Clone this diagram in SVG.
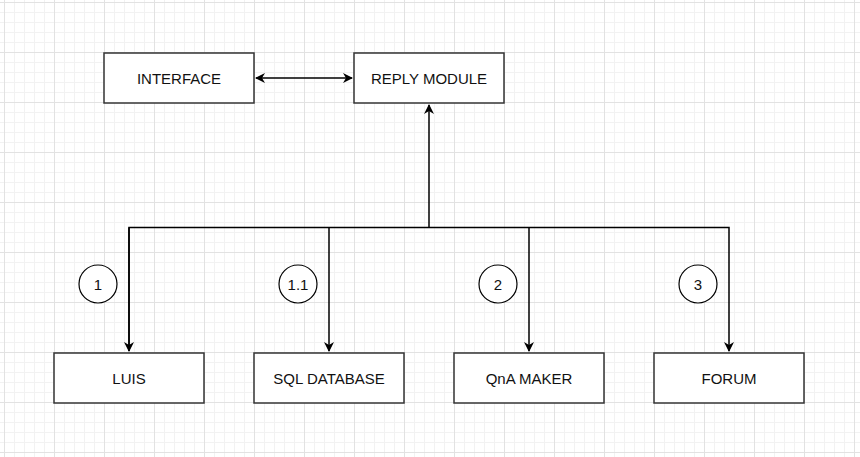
<svg xmlns="http://www.w3.org/2000/svg" width="860" height="457" viewBox="0 0 860 457">
<defs>
<pattern id="minor" x="4" y="2" width="10" height="10" patternUnits="userSpaceOnUse">
<path d="M0 0.5H10M0.5 0V10" fill="none" stroke="#f2f2f2" stroke-width="1"/>
</pattern>
<pattern id="major" x="4" y="2" width="50" height="50" patternUnits="userSpaceOnUse">
<path d="M0 0.5H50M0.5 0V50" fill="none" stroke="#e2e2e2" stroke-width="1"/>
</pattern>
<marker id="ah" viewBox="0 0 10 10" refX="9" refY="5" markerWidth="10" markerHeight="10" markerUnits="userSpaceOnUse" orient="auto-start-reverse">
<path d="M0 0L10 5L0 10L3 5Z" fill="#000"/>
</marker>
<style>
.box{fill:#fff;stroke:#333;stroke-width:1.5}
.lbl{font-family:"Liberation Sans",Arial,sans-serif;font-size:15px;fill:#111;text-anchor:middle;dominant-baseline:central}
.c{fill:#fff;stroke:#000;stroke-width:1.2}
.ln{fill:none;stroke:#000;stroke-width:1.5}
</style>
</defs>
<rect width="860" height="457" fill="#fff"/>
<rect width="860" height="457" fill="url(#minor)"/>
<rect width="860" height="457" fill="url(#major)"/>
<g id="connectors">
<path class="ln" d="M256 78H352" marker-start="url(#ah)" marker-end="url(#ah)"/>
<path class="ln" d="M429 227V105" stroke-width="2.5" marker-end="url(#ah)"/>
<path class="ln" d="M129 351V227.5H729V351" marker-end="url(#ah)" stroke-width="2"/>
<path class="ln" d="M329 227.5V351" marker-end="url(#ah)"/>
<path class="ln" d="M529 227.5V351" marker-end="url(#ah)"/>
<path class="ln" d="M129 227.5V351" marker-end="url(#ah)"/>
</g>
<g id="interface"><rect class="box" x="104" y="53" width="150" height="50"/><text class="lbl" x="179" y="78">INTERFACE</text></g>
<g id="reply"><rect class="box" x="354" y="53" width="150" height="50"/><text class="lbl" x="429" y="78">REPLY MODULE</text></g>
<g id="luis"><rect class="box" x="54" y="353" width="150" height="50"/><text class="lbl" x="129" y="378">LUIS</text></g>
<g id="sql"><rect class="box" x="254" y="353" width="150" height="50"/><text class="lbl" x="329" y="378">SQL DATABASE</text></g>
<g id="qna"><rect class="box" x="454" y="353" width="150" height="50"/><text class="lbl" x="529" y="378">QnA MAKER</text></g>
<g id="forum"><rect class="box" x="654" y="353" width="150" height="50"/><text class="lbl" x="729" y="378">FORUM</text></g>
<g id="n1"><circle class="c" cx="98" cy="284" r="19"/><text class="lbl" x="98" y="284">1</text></g>
<g id="n11"><circle class="c" cx="298" cy="284" r="19"/><text class="lbl" x="298" y="284">1.1</text></g>
<g id="n2"><circle class="c" cx="498" cy="284" r="19"/><text class="lbl" x="498" y="284">2</text></g>
<g id="n3"><circle class="c" cx="698" cy="284" r="19"/><text class="lbl" x="698" y="284">3</text></g>
</svg>
